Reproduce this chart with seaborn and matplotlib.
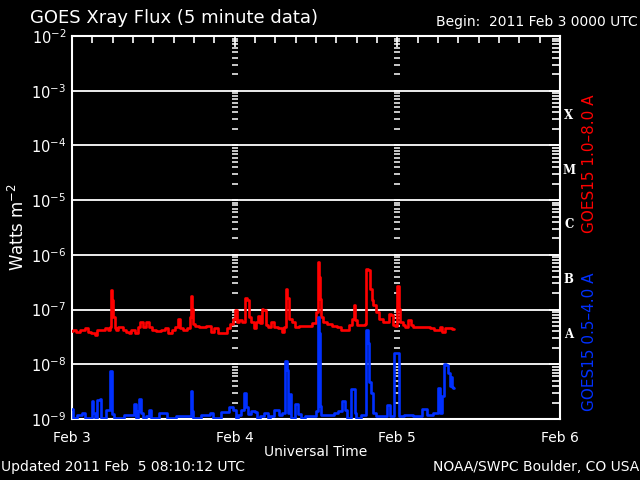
import numpy as np
import pandas as pd
import matplotlib
matplotlib.use("Agg")
import matplotlib.pyplot as plt
import matplotlib.transforms as mtransforms
from matplotlib.ticker import FixedLocator, NullFormatter, LogLocator
import seaborn as sns

# ---------------- data (hours since 2011 Feb 3 00:00 UTC, flux W m^-2) -------------
red_hours = [0.0, 0.4, 0.9, 1.6, 2.1, 2.6, 3.1, 3.6, 3.9, 4.6, 5.1, 5.6, 5.7, 5.8, 5.97,
             6.2, 6.4, 6.6, 6.9, 7.3, 7.7, 8.2, 8.5, 9.0, 9.5, 9.9, 10.3, 10.7, 11.2, 11.6,
             12.1, 12.7, 13.5, 13.9, 14.5, 15.1, 15.4, 15.8, 16.1, 16.7, 17.2, 17.5, 17.6,
             17.8, 17.95, 18.4,
             19.2, 20.2, 20.7, 21.2, 21.9, 22.7, 23.1, 23.6, 24.0, 24.2, 24.4, 24.9, 25.4,
             25.6, 25.9, 26.2, 26.6, 27.0, 27.3, 27.6, 27.9, 28.1, 28.4, 28.7, 29.2, 29.6,
             30.0, 30.8, 31.1, 31.4, 31.6, 31.9, 32.2, 32.6, 33.1, 33.8, 35.0, 35.9, 36.2,
             36.4, 36.55, 36.7, 36.9, 37.2, 37.9, 38.7, 39.4, 39.9, 40.6, 41.1, 41.5, 41.6,
             41.8, 42.4, 43.1, 43.4, 43.5, 43.8, 44.1, 44.3, 44.6, 45.1, 45.6, 46.2, 46.6,
             46.8, 47.2, 47.5, 47.9, 48.1, 48.3, 48.6, 49.0, 49.4, 49.8, 50.1, 50.6, 51.5,
             52.5, 53.2, 53.7, 54.2, 54.5, 54.8, 55.2, 55.7, 56.3]
red_flux = [4.09e-8, 4.21e-8, 3.93e-8, 4.21e-8, 4.52e-8, 3.93e-8, 3.66e-8, 3.41e-8, 4.21e-8,
            4.21e-8, 4.52e-8, 4.21e-8, 4.84e-8, 2.25e-7, 1.48e-7, 7.36e-8, 4.52e-8, 4.21e-8,
            4.71e-8, 4.71e-8, 4.21e-8, 3.93e-8, 3.66e-8, 4.21e-8, 3.77e-8, 4.84e-8, 5.97e-8,
            4.84e-8, 6.0e-8, 4.84e-8, 4.21e-8, 4.09e-8, 4.21e-8, 4.52e-8, 3.66e-8, 4.21e-8,
            4.84e-8, 6.86e-8, 4.52e-8, 4.21e-8, 4.52e-8, 7.36e-8, 1.75e-7, 1.04e-7, 5.41e-8,
            4.98e-8,
            4.84e-8, 4.98e-8, 3.93e-8, 4.52e-8, 3.66e-8, 3.77e-8, 4.52e-8, 5.41e-8, 6.86e-8,
            9.73e-8, 5.97e-8, 6.40e-8, 5.97e-8, 1.65e-7, 1.48e-7, 7.36e-8, 5.97e-8, 4.52e-8,
            5.97e-8, 7.57e-8, 5.72e-8, 1.04e-7, 9.73e-8, 5.19e-8, 4.71e-8, 5.97e-8, 4.71e-8,
            4.52e-8, 3.93e-8, 4.84e-8, 2.41e-7, 1.65e-7, 6.86e-8, 5.97e-8, 4.71e-8, 4.98e-8,
            4.98e-8, 5.72e-8, 9.08e-8, 7.36e-7, 3.93e-7, 1.58e-7, 7.4e-8, 5.97e-8, 5.41e-8,
            4.98e-8, 4.84e-8, 4.21e-8, 4.21e-8, 5.19e-8, 6.86e-8, 1.20e-7, 6.40e-8, 5.19e-8,
            5.19e-8, 5.41e-8, 5.41e-7, 5.19e-7, 2.41e-7, 1.48e-7, 1.20e-7, 9.08e-8, 6.86e-8,
            5.97e-8, 5.97e-8, 8.46e-8, 8.0e-8, 5.19e-8, 4.98e-8, 2.69e-7, 1.04e-7, 5.97e-8,
            5.19e-8, 4.84e-8, 6.4e-8, 5.19e-8, 4.71e-8, 4.71e-8, 4.71e-8, 4.52e-8, 4.21e-8,
            4.21e-8, 4.84e-8, 3.93e-8, 4.52e-8, 4.52e-8, 4.40e-8]

blue_hours = [0.0, 0.3, 1.3, 1.7, 2.0, 2.9, 3.0, 3.2, 3.5, 4.0, 4.2, 4.4, 5.5, 5.8, 6.0, 6.3,
              9.0, 9.3, 9.5, 9.9, 10.0, 10.3, 10.6, 11.3, 11.5, 11.8, 13.9, 14.2, 16.6, 17.5,
              17.6, 17.8, 18.0, 20.1, 20.7, 21.0, 22.9, 23.5, 24.0, 24.4, 24.6, 25.3, 25.6,
              25.8, 26.2, 26.7, 27.2, 27.5, 27.9, 28.8, 29.0, 29.3, 30.3, 30.8, 31.3, 31.6,
              31.8, 32.0, 32.2, 32.5, 33.2, 33.5, 34.0, 34.9, 35.8, 36.2, 36.4, 36.55, 36.7,
              36.9, 38.4, 39.0, 39.5, 40.1, 40.4, 40.7, 41.6, 41.8, 42.1, 43.1, 43.6, 43.8,
              43.95, 44.2, 44.5, 45.2, 46.1, 46.8, 47.0, 48.1, 48.3, 49.8, 50.9, 52.3, 52.6,
              53.8, 54.2, 54.4, 54.8, 55.0, 55.4, 55.6, 55.8, 55.9, 56.1, 56.3]
blue_flux = [1.52e-9, 1.05e-9, 1.2e-9, 1.29e-9, 1.05e-9, 1.05e-9, 2.15e-9, 1.29e-9, 1.05e-9,
             2.25e-9, 2.31e-9, 1.05e-9, 1.48e-9, 7.57e-9, 1.25e-9, 1.05e-9,
             1.2e-9, 1.9e-9, 1.05e-9, 1.38e-9, 2.34e-9, 1.29e-9, 1.05e-9, 1.15e-9, 1.48e-9,
             1.05e-9, 1.29e-9, 1.05e-9, 1.15e-9, 1.15e-9, 3.27e-9, 1.42e-9, 1.05e-9,
             1.2e-9, 1.29e-9, 1.05e-9, 1.34e-9, 1.65e-9, 1.44e-9, 1.05e-9, 1.2e-9, 1.48e-9,
             2.97e-9, 1.65e-9, 1.25e-9, 1.38e-9, 1.34e-9, 1.05e-9, 1.15e-9, 1.29e-9, 1.05e-9,
             1.15e-9, 1.44e-9, 1.2e-9, 1.29e-9, 1.15e-8, 7.89e-9, 1.29e-9, 2.9e-9, 1.05e-9,
             1.9e-9, 1.25e-9, 1.05e-9, 1.15e-9, 1.15e-9, 1.4e-9, 7.36e-8, 3.66e-8, 1.70e-9,
             1.2e-9, 1.2e-9, 1.29e-9, 1.38e-9, 2.15e-9, 1.48e-9, 1.05e-9, 3.51e-9, 1.29e-9,
             1.05e-9, 1.2e-9, 4.21e-8, 2.41e-8, 4.84e-9, 2.97e-9, 1.29e-9, 1.15e-9, 1.15e-9,
             1.82e-9, 1.15e-9, 1.58e-8, 1.15e-9, 1.2e-9, 1.15e-9, 1.52e-9, 1.2e-9, 1.29e-9,
             3.66e-9, 1.29e-9, 2.58e-9, 1.0e-8, 9.7e-9, 6.86e-9, 3.93e-9, 5.97e-9, 3.8e-9,
             3.66e-9]

day_ticks = [0, 24, 48, 72]
day_labels = ["Feb 3", "Feb 4", "Feb 5", "Feb 6"]
decades = [-9, -8, -7, -6, -5, -4, -3, -2]
class_letters = ["A", "B", "C", "M", "X"]
class_decades = [-8, -7, -6, -5, -4]

RED = "#ff0000"
BLUE = "#0030ff"

# ---------------- figure ----------------
sns.set_theme(style="dark")
plt.rcParams.update({
    "figure.facecolor": "black", "axes.facecolor": "black",
    "axes.edgecolor": "white", "text.color": "white",
    "xtick.color": "white", "ytick.color": "white",
    "axes.labelcolor": "white",
})
plt.rcParams["font.family"] = ["DejaVu Sans"]

fig = plt.figure(figsize=(6.4, 4.8), dpi=100)
ax = fig.add_axes([72 / 640, 1 - 419 / 480, (560 - 72) / 640, (419 - 36) / 480])
ax.set_yscale("log")

df_red = pd.DataFrame({"hours": red_hours, "flux": red_flux})
df_blue = pd.DataFrame({"hours": blue_hours, "flux": blue_flux})
sns.lineplot(data=df_red, x="hours", y="flux", ax=ax, color=RED, lw=1.9,
             drawstyle="steps-mid", estimator=None, zorder=4)
sns.lineplot(data=df_blue, x="hours", y="flux", ax=ax, color=BLUE, lw=1.9,
             drawstyle="steps-mid", estimator=None, zorder=4)

ax.set_xlim(day_ticks[0], day_ticks[-1])
ax.set_ylim(10.0 ** decades[0], 10.0 ** decades[-1])

# decade lines
for d in decades[1:-1]:
    ax.axhline(10.0 ** d, color="white", lw=1.3, zorder=2)

# dashed day markers (log minor positions) at Feb 4 and Feb 5
mult = np.arange(1, 10)
ylev = np.concatenate([mult * 10.0 ** d for d in decades[:-1]])
for dt in day_ticks[1:-1]:
    ax.plot(np.full_like(ylev, dt), ylev, ls="none", marker="_", ms=5, mew=1.1,
            color="white", zorder=3)

# ticks
ax.xaxis.set_major_locator(FixedLocator(day_ticks))
ax.set_xticklabels(day_labels, fontsize=10)
ax.xaxis.set_minor_locator(FixedLocator(np.arange(0, 73, 3)))
ax.yaxis.set_major_locator(FixedLocator([10.0 ** d for d in decades]))
ax.set_yticklabels([f"$10^{{{d}}}$" for d in decades], fontsize=10.5)
ax.yaxis.set_minor_locator(LogLocator(base=10, subs=np.arange(2, 10), numticks=20))
ax.yaxis.set_minor_formatter(NullFormatter())
ax.tick_params(axis="both", which="both", direction="in", top=True, right=True,
               color="white", width=1.2)
ax.tick_params(axis="x", which="major", length=8, pad=9)
ax.tick_params(axis="x", which="minor", length=5)
ax.tick_params(axis="y", which="major", length=8, pad=4)
ax.tick_params(axis="y", which="minor", length=6)
for s in ax.spines.values():
    s.set_color("white")
    s.set_linewidth(1.5)
ax.grid(False)

ax.set_xlabel("Universal Time", fontsize=10, labelpad=0)
ax.set_ylabel("Watts m$^{-2}$", fontsize=12)
ax.yaxis.set_label_coords(-(72 - 28) / 488, 0.5)

# class letters on right
trans = mtransforms.blended_transform_factory(ax.transAxes, ax.transData)
for letter, d in zip(class_letters, class_decades):
    ax.text(1.018, 10.0 ** (d + 0.55), letter, transform=trans, ha="center",
            va="center", fontsize=8.5, fontweight="bold", family="DejaVu Serif",
            color="white")

# channel labels
fig.text(590 / 640, 1 - 164 / 480, "GOES15 1.0\u20138.0 A", rotation=90, color=RED,
         ha="center", va="center", fontsize=11)
fig.text(590 / 640, 1 - 342 / 480, "GOES15 0.5\u20134.0 A", rotation=90, color=BLUE,
         ha="center", va="center", fontsize=11)

# header / footer texts
fig.text(30 / 640, 1 - 18 / 480, "GOES Xray Flux (5 minute data)", fontsize=13,
         ha="left", va="center", color="white")
fig.text(638 / 640, 1 - 22 / 480, "Begin:  2011 Feb 3 0000 UTC", fontsize=10,
         ha="right", va="center", color="white")
fig.text(1 / 640, 1 - 467 / 480, "Updated 2011 Feb  5 08:10:12 UTC", fontsize=10,
         ha="left", va="center", color="white")
fig.text(639 / 640, 1 - 467 / 480, "NOAA/SWPC Boulder, CO USA", fontsize=10,
         ha="right", va="center", color="white")

fig.savefig("out.png", dpi=100, facecolor="black")
